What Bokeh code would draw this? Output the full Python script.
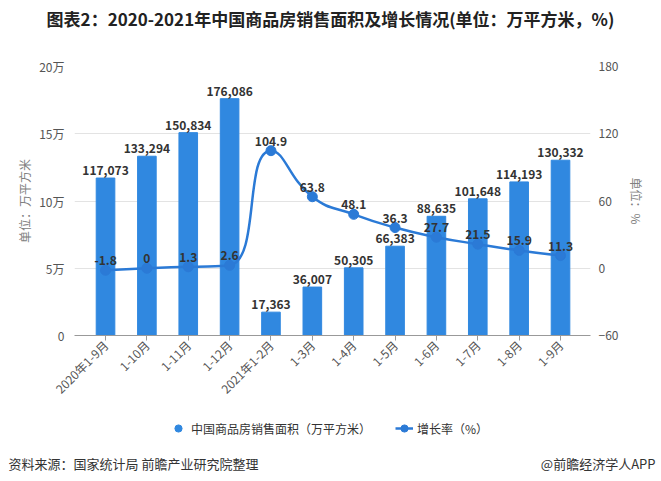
import math
from bokeh.plotting import figure
from bokeh.layouts import column, row
from bokeh.models import (Range1d, LinearAxis, FixedTicker, Label, Legend, LegendItem,
                          ColumnDataSource)
from bokeh.core.properties import value
from bokeh.embed import file_html
from bokeh.resources import INLINE

# ---------------- data ----------------
categories = ["2020年1-9月", "1-10月", "1-11月", "1-12月", "2021年1-2月", "1-3月",
              "1-4月", "1-5月", "1-6月", "1-7月", "1-8月", "1-9月"]
area = [117073, 133294, 150834, 176086, 17363, 36007, 50305, 66383, 88635,
        101648, 114193, 130332]
growth = [-1.8, 0, 1.3, 2.6, 104.9, 63.8, 48.1, 36.3, 27.7, 21.5, 15.9, 11.3]
left_ticks = [0, 50000, 100000, 150000, 200000]
left_tick_labels = ["0", "5万", "10万", "15万", "20万"]
right_ticks = [-60, 0, 60, 120, 180]

BAR = "#3088e0"
LINE = "#2b7ad6"
FONT = "Noto Sans CJK SC"
W = 661

xs = list(range(len(categories)))


def blank(height):
    f = figure(width=W, height=height, output_backend="svg", toolbar_location=None,
               x_range=Range1d(0, W), y_range=Range1d(0, height),
               x_axis_location=None, y_axis_location=None,
               min_border=0, outline_line_color=None)
    f.grid.visible = False
    return f


# ---------------- title strip ----------------
top = blank(40)
top.add_layout(Label(x=330, y=22, x_units="screen", y_units="screen",
                     text="图表2：2020-2021年中国商品房销售面积及增长情况(单位：万平方米，%)",
                     text_align="center", text_baseline="middle", text_font=FONT,
                     text_font_size="17px", text_font_style="bold",
                     text_color="#222222"))

# ---------------- main chart ----------------
p = figure(width=W, height=367, output_backend="svg", toolbar_location=None,
           x_range=Range1d(-0.75, 11.725), y_range=Range1d(0, 200000),
           min_border_left=74, min_border_right=71, min_border_top=26,
           min_border_bottom=72, outline_line_color=None)
p.extra_y_ranges = {"rate": Range1d(-60, 180)}

p.xgrid.grid_line_color = None
p.ygrid.grid_line_color = "#e3e3e3"
p.ygrid.ticker = FixedTicker(ticks=left_ticks)

xa = p.xaxis[0]
xa.ticker = FixedTicker(ticks=xs)
xa.major_label_overrides = {i: c for i, c in enumerate(categories)}
xa.major_label_orientation = math.pi / 4
xa.axis_line_color = "#999999"
xa.major_tick_line_color = "#999999"
xa.major_tick_in = 0
xa.major_tick_out = 5
xa.minor_tick_line_color = None
xa.major_label_text_font = FONT
xa.major_label_text_font_size = "12px"
xa.major_label_text_color = "#555555"
xa.major_label_standoff = 2

ya = p.yaxis[0]
ya.ticker = FixedTicker(ticks=left_ticks)
ya.major_label_overrides = {t: l for t, l in zip(left_ticks, left_tick_labels)}
ya.axis_line_color = None
ya.major_tick_line_color = None
ya.major_tick_in = 0
ya.major_tick_out = 0
ya.minor_tick_line_color = None
ya.major_label_text_font = FONT
ya.major_label_text_font_size = "12px"
ya.major_label_text_color = "#555555"
ya.major_label_standoff = 10
ya.axis_label = "单位：万平方米"
ya.axis_label_text_font = FONT
ya.axis_label_text_font_size = "12px"
ya.axis_label_text_font_style = "normal"
ya.axis_label_text_color = "#808080"
ya.axis_label_standoff = 3

ra = LinearAxis(y_range_name="rate", ticker=FixedTicker(ticks=right_ticks))
ra.axis_line_color = None
ra.major_tick_line_color = None
ra.major_tick_in = 0
ra.major_tick_out = 0
ra.minor_tick_line_color = None
ra.major_label_text_font = FONT
ra.major_label_text_font_size = "12px"
ra.major_label_text_color = "#555555"
ra.major_label_standoff = 8
ra.axis_label = "单位：%"
ra.axis_label_text_font = FONT
ra.axis_label_text_font_size = "12px"
ra.axis_label_text_font_style = "normal"
ra.axis_label_text_color = "#808080"
ra.axis_label_standoff = 7
p.add_layout(ra, "right")

bar_src = ColumnDataSource(dict(x=xs, top=area, lab=[f"{v:,}" for v in area]))
p.vbar(x="x", top="top", width=0.45, source=bar_src, color=BAR)
p.text(x="x", y="top", text="lab", source=bar_src, text_align="center",
       text_baseline="bottom", y_offset=-3, text_font=value(FONT),
       text_font_size="12px", text_font_style="bold", text_color="#333333")

# smooth growth line (ECharts-style smoothing computed from the data points)
SX = 41.36   # px per category
SY = 1.121   # px per percent


def smooth_segments(xv, yv, smooth=0.5):
    P = [(a * SX, b * SY) for a, b in zip(xv, yv)]
    n = len(P)
    segs = []
    cpx0, cpy0 = P[0]
    for i in range(1, n):
        x, y = P[i]
        px, py = P[i - 1]
        if i < n - 1:
            nx, ny = P[i + 1]
            vx, vy = nx - px, ny - py
            lp = math.hypot(x - px, y - py)
            ln = math.hypot(nx - x, ny - y)
            r = ln / (ln + lp)
            c1x = x + vx * smooth * r
            c1y = y + vy * smooth * r
            c1x = max(min(c1x, max(nx, x)), min(nx, x))
            c1y = max(min(c1y, max(ny, y)), min(ny, y))
            vx, vy = c1x - x, c1y - y
            ncx = x - vx * lp / ln
            ncy = y - vy * lp / ln
            ncx = max(min(ncx, max(px, x)), min(px, x))
            ncy = max(min(ncy, max(py, y)), min(py, y))
            vx, vy = x - ncx, y - ncy
            c1x = x + vx * ln / lp
            c1y = y + vy * ln / lp
        else:
            ncx, ncy = x, y
            c1x, c1y = x, y
        segs.append((px, py, x, y, cpx0, cpy0, ncx, ncy))
        cpx0, cpy0 = c1x, c1y
    cols = dict(x0=[], y0=[], x1=[], y1=[], cx0=[], cy0=[], cx1=[], cy1=[])
    for s in segs:
        for k, v, sc in zip(["x0", "y0", "x1", "y1", "cx0", "cy0", "cx1", "cy1"], s,
                            [SX, SY] * 4):
            cols[k].append(v / sc)
    return cols


p.bezier(source=ColumnDataSource(smooth_segments(xs, growth)),
         x0="x0", y0="y0", x1="x1", y1="y1", cx0="cx0", cy0="cy0",
         cx1="cx1", cy1="cy1", line_color=LINE, line_width=2.5, y_range_name="rate")
line_src = ColumnDataSource(dict(x=xs, y=growth, lab=[f"{v:g}" for v in growth]))
p.scatter(x="x", y="y", source=line_src, size=10, color=LINE, y_range_name="rate")
p.text(x="x", y="y", text="lab", source=line_src, y_range_name="rate",
       text_align="center", text_baseline="bottom", y_offset=-5,
       text_font=value(FONT), text_font_size="12px", text_font_style="bold",
       text_color="#333333")

# ---------------- legend + footer strip ----------------
bot = blank(74)
# legend proxies sit outside the strip's visible range; only their legend swatches show
off = [-1000, -999]
leg_bar = bot.scatter(x=off, y=off, size=11, color=BAR)
leg_line = bot.line(x=off, y=off, line_color=LINE, line_width=2.5)
leg_dot = bot.scatter(x=off, y=off, size=8, color=LINE)
legend = Legend(items=[LegendItem(label="中国商品房销售面积（万平方米）", renderers=[leg_bar]),
                       LegendItem(label="增长率（%）", renderers=[leg_line, leg_dot])],
                orientation="horizontal", location=(169, 44),
                border_line_color=None, background_fill_alpha=0,
                label_text_font=FONT, label_text_font_size="12px",
                label_text_color="#333333", glyph_width=18, glyph_height=18,
                spacing=24, margin=0, padding=4, label_standoff=4)
bot.add_layout(legend, "center")
bot.add_layout(Label(x=8, y=18, x_units="screen", y_units="screen",
                     text="资料来源：国家统计局 前瞻产业研究院整理", text_align="left",
                     text_baseline="middle", text_font=FONT, text_font_size="13px",
                     text_color="#333333"))
bot.add_layout(Label(x=655, y=18, x_units="screen", y_units="screen",
                     text="@前瞻经济学人APP", text_align="right",
                     text_baseline="middle", text_font=FONT, text_font_size="13px",
                     text_color="#333333"))

# nested rows keep the strips' frames full-width (not aligned with the chart frame)
page = column(row(top), p, row(bot), spacing=0)
open("out.html", "w").write(file_html(page, INLINE))
